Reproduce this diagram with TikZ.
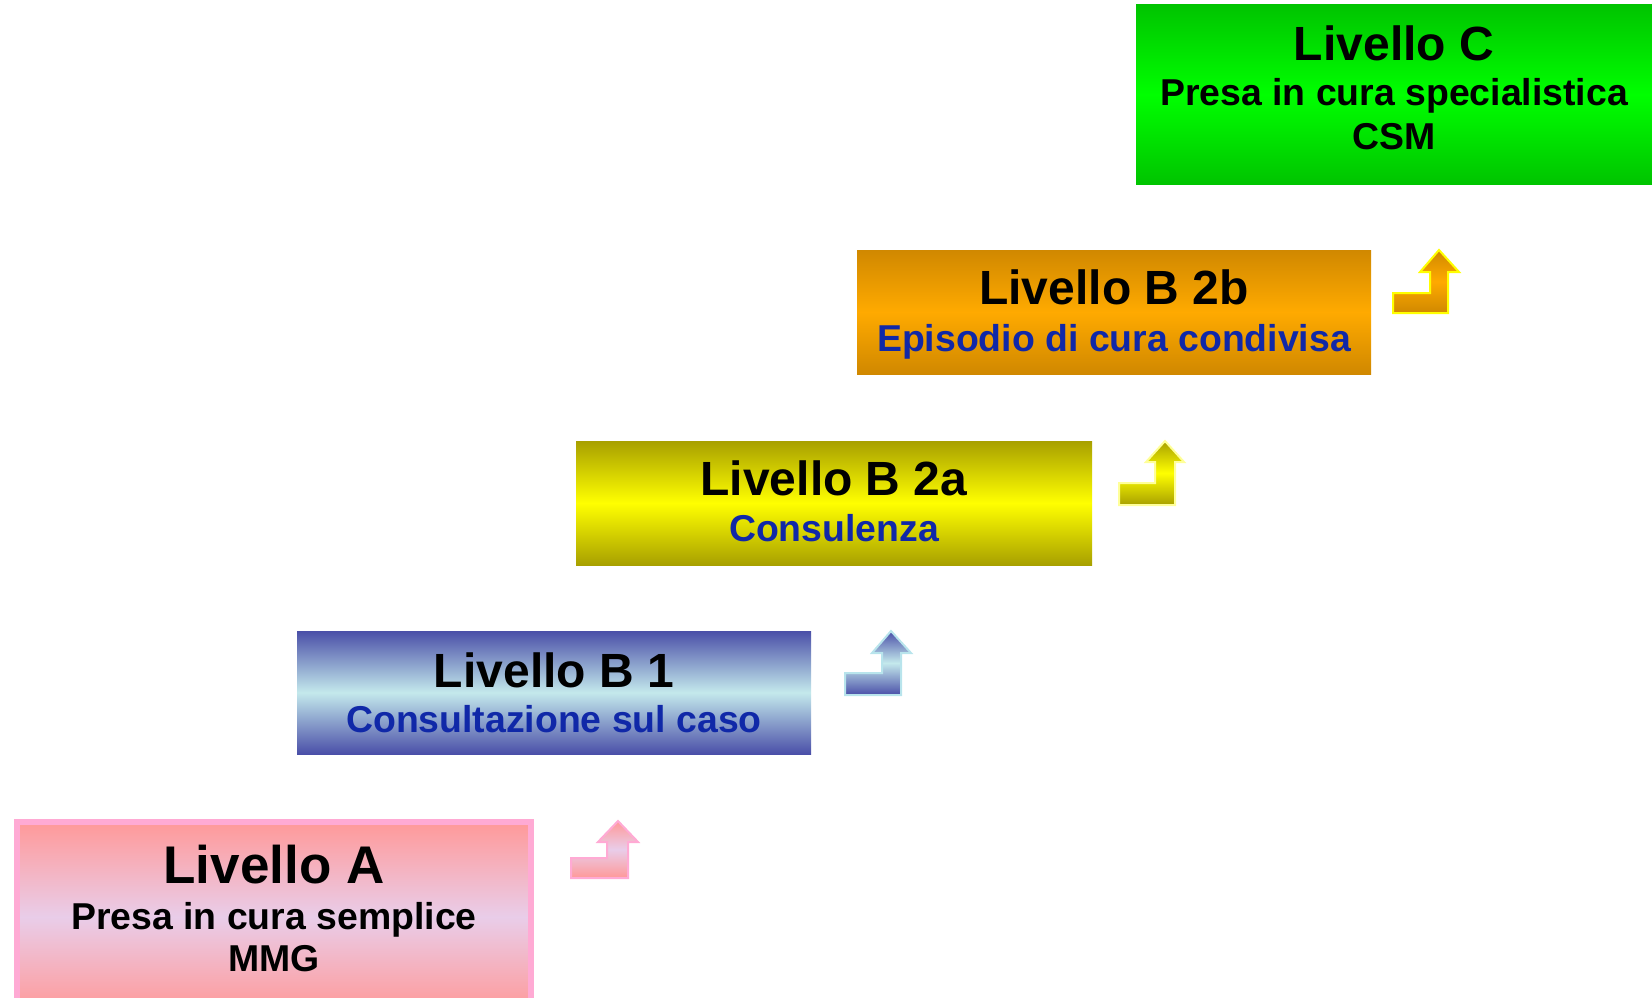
\documentclass[tikz,border=0pt]{standalone}
\usepackage{fontspec}
\setmainfont{Liberation Sans}
\usetikzlibrary{shadings}
\definecolor{subblue}{HTML}{1028A8}
\definecolor{pinkedge}{HTML}{FFAAD4}
\definecolor{pinkout}{HTML}{FF9999}
\definecolor{pinkmid}{HTML}{E9CDE9}
\definecolor{blueout}{HTML}{4A4FA8}
\definecolor{bluemid}{HTML}{C4E9EC}
\definecolor{blueedge}{HTML}{B8E4EC}
\definecolor{yelout}{HTML}{A8A000}
\definecolor{yelmid}{HTML}{FFFF00}
\definecolor{yeledge}{HTML}{FFFF99}
\definecolor{orout}{HTML}{D08800}
\definecolor{ormid}{HTML}{FFAA00}
\definecolor{oredge}{HTML}{FFFF00}
\definecolor{grout}{HTML}{00C400}
\definecolor{grmid}{HTML}{00FF00}
\tikzset{
  lvbox/.style={rectangle, draw=none, inner sep=0pt, outer sep=0pt, anchor=north west},
  grad/.style n args={2}{top color=#1, bottom color=#1, middle color=#2},
  ttl/.style={anchor=base, inner sep=0pt, font=\bfseries\fontsize{48}{58}\selectfont},
  bigttl/.style={anchor=base, inner sep=0pt, font=\bfseries\fontsize{53}{64}\selectfont},
  sub/.style={anchor=base, inner sep=0pt, text=subblue, font=\bfseries\fontsize{37.4}{44}\selectfont},
  subk/.style={anchor=base, inner sep=0pt, text=black, font=\bfseries\fontsize{37.4}{44}\selectfont},
  steparrow/.style={line width=2pt, line join=miter},
}
\begin{document}
\begin{tikzpicture}[x=1pt,y=-1pt]
\useasboundingbox (0,0) rectangle (1652,998);

% Livello A
\node[lvbox, minimum width=514pt, minimum height=190pt, grad={pinkout}{pinkmid}] (lvA) at (17,822) {};
\draw[pinkedge, line width=6pt] (lvA.north west) rectangle (lvA.south east);
\node[bigttl] (tA) at (274,883) {Livello A};
\node[subk] (sA1) at (274,929) {Presa in cura semplice};
\node[subk] (sA2) at (274,971) {MMG};

% Livello B 1
\node[lvbox, minimum width=514pt, minimum height=123pt, grad={blueout}{bluemid}] (lvB1) at (297,631) {};
\node[ttl] (tB1) at (554,687) {Livello B 1};
\node[sub] (sB1) at (554,732) {Consultazione sul caso};

% Livello B 2a
\node[lvbox, minimum width=516pt, minimum height=124pt, grad={yelout}{yelmid}] (lvB2a) at (576,441) {};
\node[ttl] (tB2a) at (834,495) {Livello B 2a};
\node[sub] (sB2a) at (834,541) {Consulenza};

% Livello B 2b
\node[lvbox, minimum width=514pt, minimum height=124pt, grad={orout}{ormid}] (lvB2b) at (857,250) {};
\node[ttl] (tB2b) at (1114,304) {Livello B 2b};
\node[sub] (sB2b) at (1114,351) {Episodio di cura condivisa};

% Livello C
\node[lvbox, minimum width=520pt, minimum height=179pt, grad={grout}{grmid}] (lvC) at (1136,5) {};
\node[ttl] (tC) at (1394,60) {Livello C};
\node[subk] (sC1) at (1394,106) {Presa in cura specialistica};
\node[subk] (sC2) at (1394,149) {CSM};

% step arrows
\shadedraw[steparrow, draw=pinkedge, grad={pinkout}{pinkmid}]
  (571,878) -- (628,878) -- (628,842) -- (638,842) -- (618,821) -- (598,842)
  -- (607,842) -- (607,858) -- (571,858) -- cycle;
\shadedraw[steparrow, draw=blueedge, grad={blueout}{bluemid}]
  (845,695) -- (901,695) -- (901,653) -- (911,653) -- (891,631) -- (872,653)
  -- (882,653) -- (882,673) -- (845,673) -- cycle;
\shadedraw[steparrow, draw=yeledge, grad={yelout}{yelmid}]
  (1119,505) -- (1175,505) -- (1175,462) -- (1184,462) -- (1165,441) -- (1146,462)
  -- (1155,462) -- (1155,483) -- (1119,483) -- cycle;
\shadedraw[steparrow, draw=oredge, grad={orout}{ormid}]
  (1393,313) -- (1448,313) -- (1448,272) -- (1459,272) -- (1439,250) -- (1420,272)
  -- (1430,272) -- (1430,293) -- (1393,293) -- cycle;
\end{tikzpicture}
\end{document}
